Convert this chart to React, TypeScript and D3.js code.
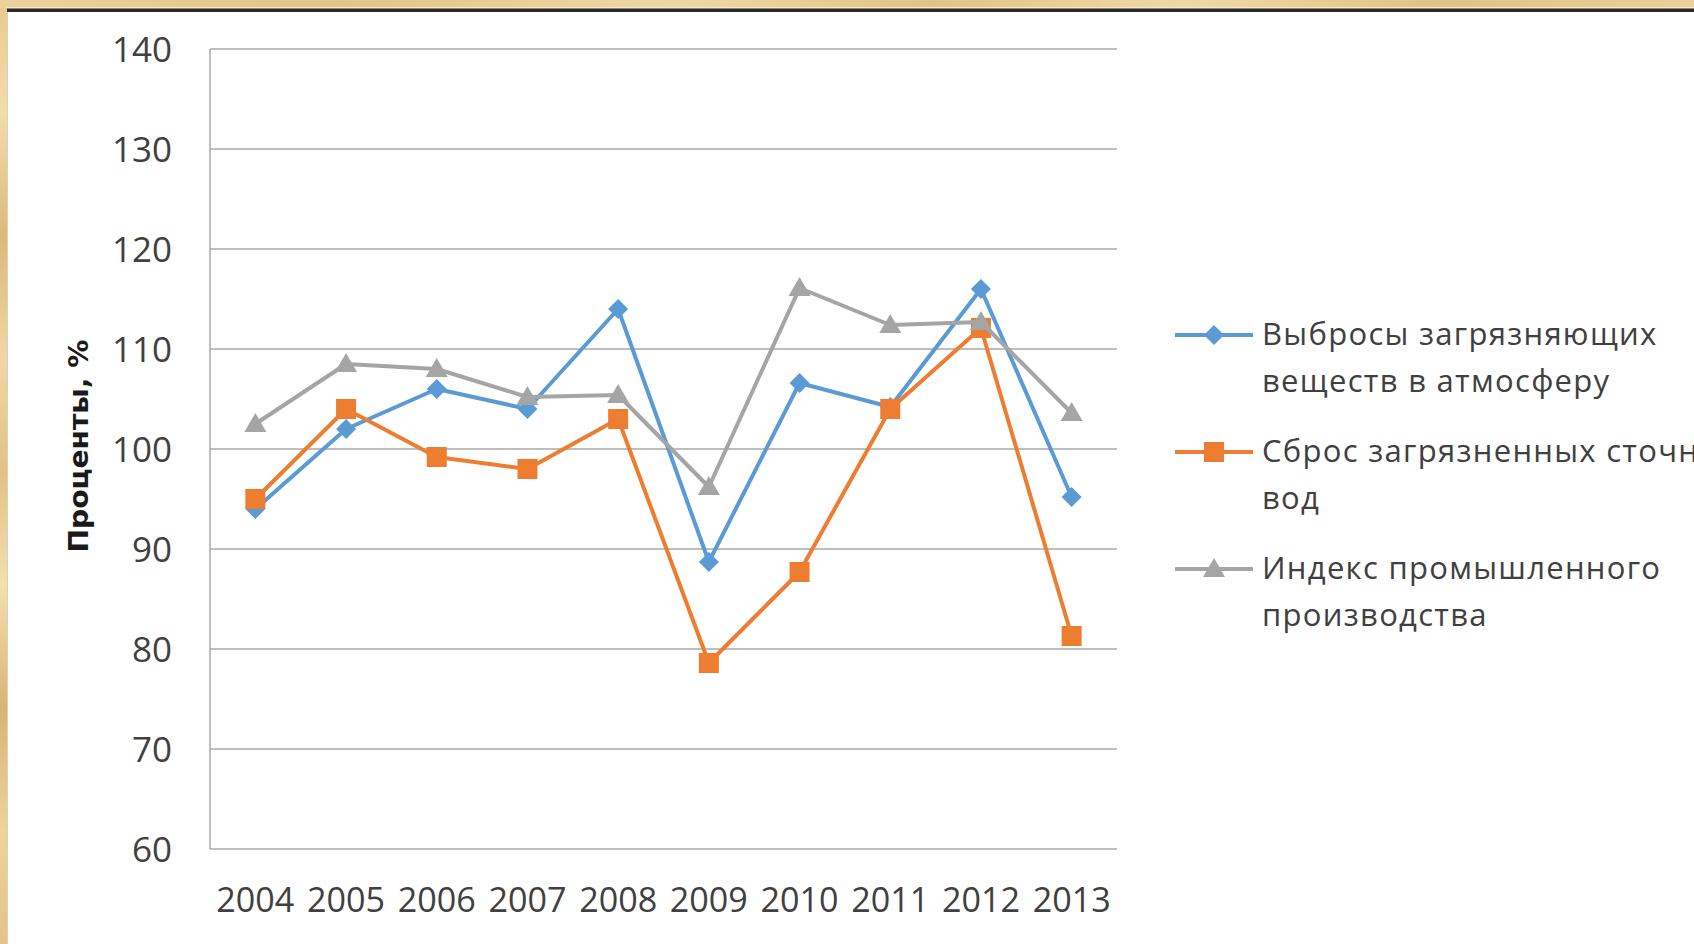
import React from "react";
import * as d3 from "d3";

// Годы наблюдений
const years = ["2004", "2005", "2006", "2007", "2008", "2009", "2010", "2011", "2012", "2013"];

// Выбросы загрязняющих веществ в атмосферу, % к предыдущему году
const emissions = [94, 102, 106, 104, 114, 88.7, 106.6, 104.2, 116, 95.2];
// Сброс загрязненных сточных вод, %
const wastewater = [95, 104, 99.2, 98, 103, 78.6, 87.7, 104, 112.1, 81.3];
// Индекс промышленного производства, %
const industry = [102.5, 108.5, 108, 105.2, 105.4, 96.2, 116.1, 112.4, 112.7, 103.6];

const yTicks = [60, 70, 80, 90, 100, 110, 120, 130, 140];

const legendLines = [
  ["Выбросы загрязняющих", "веществ в атмосферу"],
  ["Сброс загрязненных сточных", "вод"],
  ["Индекс промышленного", "производства"],
];

const colors = ["#5b9bd5", "#ed7d31", "#a5a5a5"];
const markers = ["diamond", "square", "triangle"];

const W = 1694;
const H = 944;
const plot = { left: 210, right: 1117, top: 49, bottom: 849 };
const FONT = "'Open Sans', 'Noto Sans', sans-serif";

function Marker({ kind, x, y, color }: { kind: string; x: number; y: number; color: string }) {
  if (kind === "square") {
    return <rect x={x - 10} y={y - 10} width={20} height={20} fill={color} />;
  }
  if (kind === "diamond") {
    return <path d={`M${x},${y - 10}L${x + 10},${y}L${x},${y + 10}L${x - 10},${y}Z`} fill={color} />;
  }
  return <path d={`M${x},${y - 11}L${x + 11},${y + 8}L${x - 11},${y + 8}Z`} fill={color} />;
}

export default function App() {
  const x = d3.scaleBand<string>().domain(years).range([plot.left, plot.right]).padding(0);
  const cx = (yr: string) => (x(yr) as number) + x.bandwidth() / 2;
  const y = d3.scaleLinear().domain([60, 140]).range([plot.bottom, plot.top]);

  const series = [emissions, wastewater, industry].map((vals, i) => ({
    values: vals,
    color: colors[i],
    marker: markers[i],
    legend: legendLines[i],
  }));

  const line = d3
    .line<number>()
    .x((_, i) => cx(years[i]))
    .y((v) => y(v));

  const legendY = [335, 452, 569];

  return (
    <svg
      width={W}
      height={H}
      style={{ position: "absolute", left: 0, top: 0, display: "block" }}
    >
      <defs>
        <linearGradient id="goldV" x1="0" y1="0" x2="0" y2="1">
          <stop offset="0" stopColor="#e9ca8c" />
          <stop offset="0.12" stopColor="#f3dcaa" />
          <stop offset="0.25" stopColor="#dcb979" />
          <stop offset="0.38" stopColor="#f0d7a2" />
          <stop offset="0.5" stopColor="#e2c283" />
          <stop offset="0.62" stopColor="#f4dfae" />
          <stop offset="0.75" stopColor="#d9b473" />
          <stop offset="0.88" stopColor="#eed39c" />
          <stop offset="1" stopColor="#e4c386" />
        </linearGradient>
        <linearGradient id="goldH" x1="0" y1="0" x2="1" y2="0">
          <stop offset="0" stopColor="#ecd29c" />
          <stop offset="0.2" stopColor="#e4c486" />
          <stop offset="0.4" stopColor="#efd8a4" />
          <stop offset="0.55" stopColor="#e3c385" />
          <stop offset="0.7" stopColor="#f0d9a5" />
          <stop offset="0.85" stopColor="#e2c283" />
          <stop offset="1" stopColor="#ebd09a" />
        </linearGradient>
      </defs>

      {/* рамка слайда */}
      <rect x={0} y={0} width={W} height={H} fill="url(#goldV)" />
      <rect x={0} y={0} width={W} height={8} fill="url(#goldH)" />
      <rect x={7} y={7} width={W - 7} height={1.5} fill="#f6ead0" />
      <rect x={7} y={8.5} width={W - 7} height={3.5} fill="#2a2a2a" />
      <rect x={7} y={12} width={W - 7} height={H - 12} fill="#ffffff" />
      <rect x={7} y={12} width={1} height={H - 12} fill="#d8d0c0" />

      {/* сетка */}
      {yTicks.map((t) => (
        <line
          key={t}
          x1={plot.left}
          x2={plot.right}
          y1={y(t)}
          y2={y(t)}
          stroke="#a9a9a9"
          strokeWidth={1.5}
        />
      ))}
      <line x1={plot.left} x2={plot.left} y1={plot.top} y2={plot.bottom} stroke="#a9a9a9" strokeWidth={1.5} />

      {/* подписи оси Y */}
      {yTicks.map((t) => (
        <text
          key={t}
          x={172}
          y={y(t)}
          dy="0.36em"
          textAnchor="end"
          fontFamily={FONT}
          fontSize={35}
          fill="#404040"
        >
          {t}
        </text>
      ))}

      {/* подписи оси X */}
      {years.map((yr) => (
        <text
          key={yr}
          x={cx(yr)}
          y={911.5}
          textAnchor="middle"
          fontFamily={FONT}
          fontSize={35}
          fill="#404040"
          textLength={78}
          lengthAdjust="spacingAndGlyphs"
        >
          {yr}
        </text>
      ))}

      {/* заголовок оси Y */}
      <text
        transform="translate(88,446) rotate(-90)"
        textAnchor="middle"
        fontFamily="'DejaVu Sans Condensed', 'Liberation Sans Narrow', 'DejaVu Sans', sans-serif"
        fontWeight="bold"
        fontSize={27}
        fill="#1a1a1a"
        textLength={213}
        lengthAdjust="spacingAndGlyphs"
      >
        Проценты, %
      </text>

      {/* линии рядов */}
      {series.map((s, i) => (
        <g key={i}>
          <path d={line(s.values) as string} fill="none" stroke={s.color} strokeWidth={4} strokeLinejoin="round" />
          {s.values.map((v, j) => (
            <Marker key={j} kind={s.marker} x={cx(years[j])} y={y(v)} color={s.color} />
          ))}
        </g>
      ))}

      {/* легенда */}
      {series.map((s, i) => (
        <g key={i}>
          <line x1={1175} x2={1253} y1={legendY[i]} y2={legendY[i]} stroke={s.color} strokeWidth={4} />
          <Marker kind={s.marker} x={1214} y={legendY[i]} color={s.color} />
          {s.legend.map((t, k) => (
            <text
              key={k}
              x={1262}
              y={legendY[i] + 10 + k * 47}
              fontFamily={FONT}
              fontSize={31}
              letterSpacing={1.3}
              fill="#404040"
            >
              {t}
            </text>
          ))}
        </g>
      ))}
    </svg>
  );
}
